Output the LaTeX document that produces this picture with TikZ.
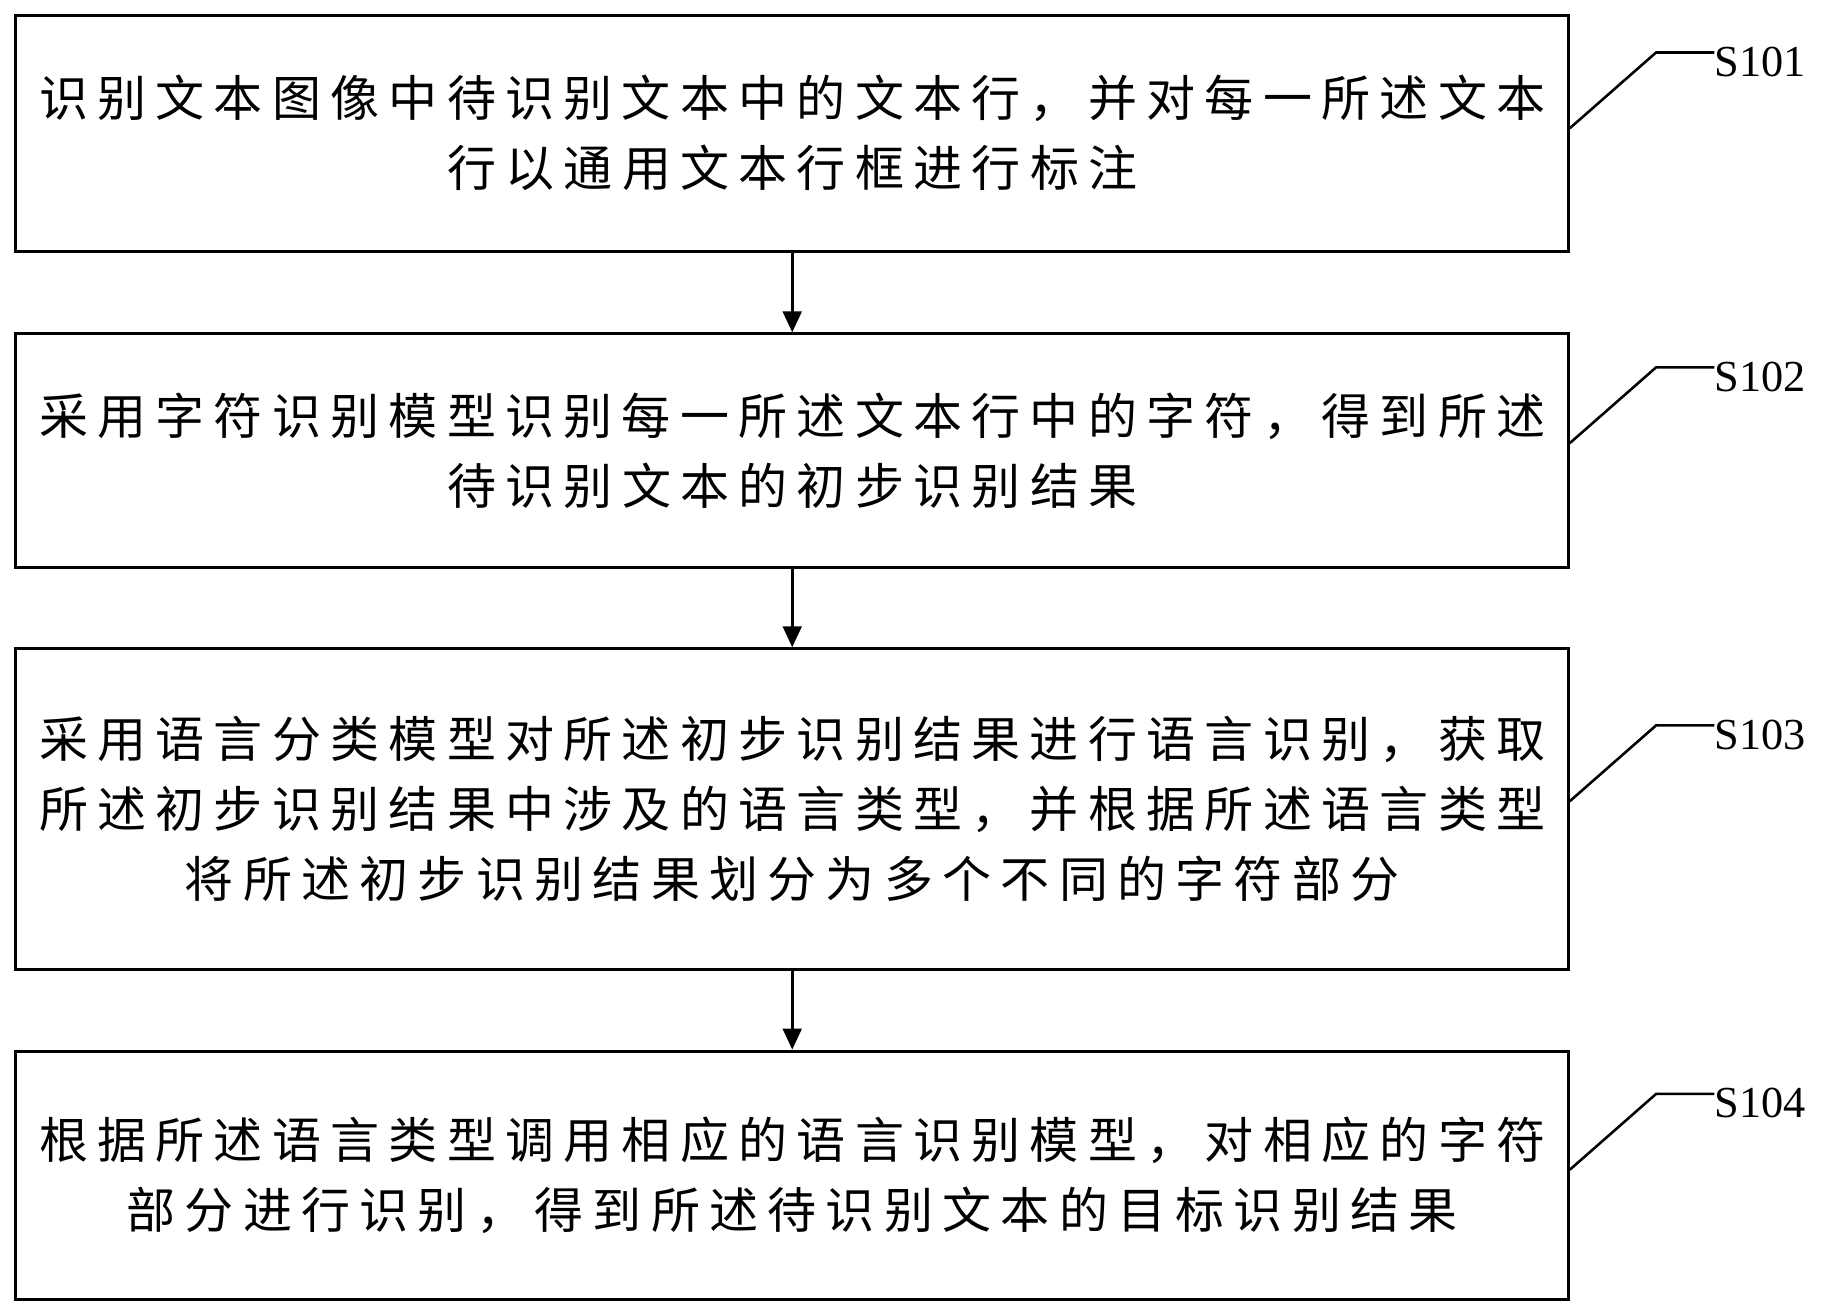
\documentclass[tikz,border=0pt]{standalone}
\usepackage{fontspec}
\setmainfont{Liberation Serif}
\newfontfamily\cjk[LetterSpace=19]{Noto Sans CJK SC}
\usetikzlibrary{arrows.meta}
\begin{document}
\begin{tikzpicture}[x=0.5pt,y=-0.5pt,
  box/.style={draw,line width=1.3pt,minimum width=666pt,anchor=north west,inner sep=0pt},
  txt/.style={align=center,font=\cjk\fontsize{21}{30}\selectfont},
  arr/.style={-{Triangle[length=9pt,width=8pt]},line width=1.3pt},
  lead/.style={line width=1.1pt},
  lab/.style={font=\fontsize{19}{22}\selectfont,anchor=west,inner sep=0pt}]
\useasboundingbox (0,0) rectangle (1564,1125);
\node[box,minimum height=101pt] (b1) at (12,12) {};
\node[box,minimum height=100pt] (b2) at (12,285) {};
\node[box,minimum height=137.5pt] (b3) at (12,555) {};
\node[box,minimum height=106.5pt] (b4) at (12,900) {};
\node[txt] at (b1.center) {识别文本图像中待识别文本中的文本行，并对每一所述文本\\行以通用文本行框进行标注};
\node[txt] at (b2.center) {采用字符识别模型识别每一所述文本行中的字符，得到所述\\待识别文本的初步识别结果};
\node[txt] at (b3.center) {采用语言分类模型对所述初步识别结果进行语言识别，获取\\所述初步识别结果中涉及的语言类型，并根据所述语言类型\\将所述初步识别结果划分为多个不同的字符部分};
\node[txt] at (b4.center) {根据所述语言类型调用相应的语言识别模型，对相应的字符\\部分进行识别，得到所述待识别文本的目标识别结果};
\draw[arr] (b1.south) -- (b2.north);
\draw[arr] (b2.south) -- (b3.north);
\draw[arr] (b3.south) -- (b4.north);
\foreach \n/\y/\t in {1/45/S101,2/315/S102,3/622/S103,4/938/S104}{
  \coordinate (k\n) at (1420,\y);
  \node[lab] (s\n) at (1470,\y+8) {\t};
  \draw[lead] (1346,\y+65) -- (k\n) -- (1470,\y);
}
\end{tikzpicture}
\end{document}
